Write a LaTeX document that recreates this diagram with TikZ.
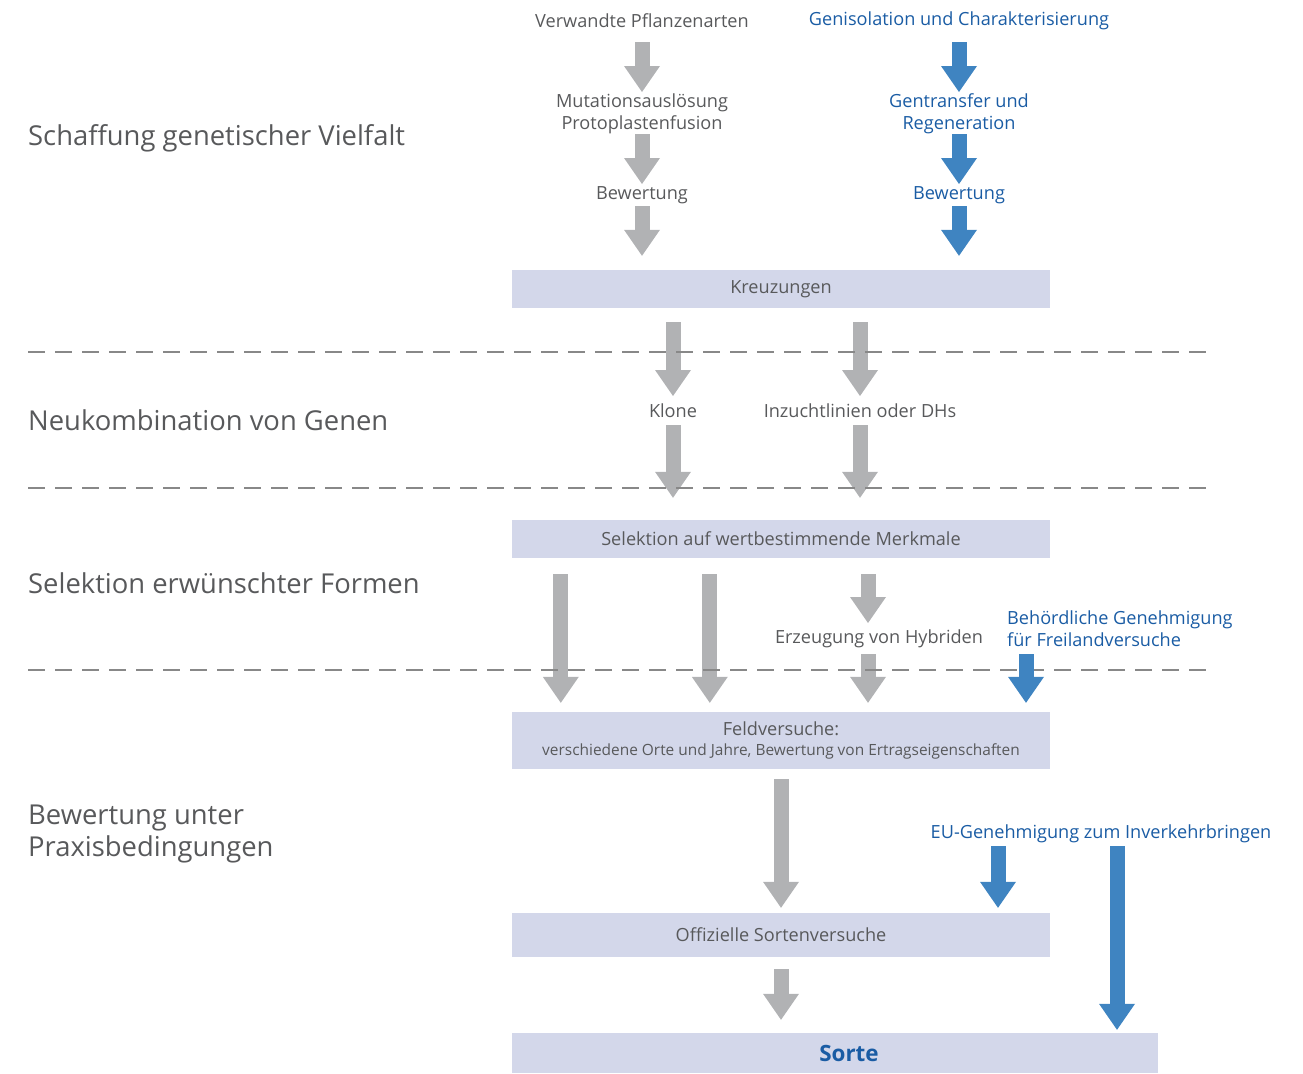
\documentclass[tikz,border=0pt]{standalone}
\usepackage{fontspec}
\setmainfont{Open Sans}
\usetikzlibrary{arrows.meta}
\definecolor{gtext}{HTML}{58595B}
\definecolor{btext}{HTML}{1A5CA4}
\definecolor{garc}{HTML}{B1B2B4}
\definecolor{barc}{HTML}{3F84C1}
\definecolor{boxc}{HTML}{D3D7EA}
\definecolor{dashc}{HTML}{888888}
\begin{document}
\begin{tikzpicture}[x=1bp,y=-1bp,
  lbl/.style={text=gtext, font=\fontsize{18.2}{22}\selectfont, inner sep=0pt, align=center},
  blbl/.style={lbl, text=btext},
  sect/.style={text=gtext, font=\fontsize{27.5}{32}\selectfont, inner sep=0pt, anchor=west, align=left},
  box/.style={fill=boxc, minimum width=538bp, inner sep=0pt, text=gtext, font=\fontsize{18.2}{22}\selectfont, align=center},
  garrow/.style={draw=garc, line width=15bp, -{Triangle[width=36bp,length=26bp,line width=0bp]}},
  barrow/.style={garrow, draw=barc},
  sepline/.style={draw=dashc, line width=2.6bp, dash pattern=on 17bp off 10bp}
]
\useasboundingbox (0,0) rectangle (1303,1073);

% section labels
\node[sect] (s1) at (28,138) {Schaffung genetischer Vielfalt};
\node[sect] (s2) at (28,420) {Neukombination von Genen};
\node[sect] (s3) at (28,583) {Selektion erwünschter Formen};
\node[sect] (s4) at (28,834) {Bewertung unter\\Praxisbedingungen};

% top columns
\node[lbl] (verw) at (642,21) {Verwandte Pflanzenarten};
\node[lbl] (mut) at (642,114) {Mutationsauslösung\\Protoplastenfusion};
\node[lbl] (bewg) at (642,195) {Bewertung};
\node[blbl] (gen) at (959,21) {Genisolation und Charakterisierung};
\node[blbl] (gtr) at (959,114) {Gentransfer und\\Regeneration};
\node[blbl] (bewb) at (959,195) {Bewertung};

% boxes
\node[box, minimum height=38bp] (kreuz) at (781,289) {Kreuzungen};
\node[box, minimum height=38bp] (sel) at (781,539) {Selektion auf wertbestimmende Merkmale};
\node[box, minimum height=57bp] (feld) at (781,740.5) {Feldversuche:\\[-2bp]{\fontsize{15.5}{18}\selectfont verschiedene Orte und Jahre, Bewertung von Ertragseigenschaften}};
\node[box, minimum height=44bp] (offiz) at (781,935) {Offizielle Sortenversuche};
\node[box, minimum height=40bp, minimum width=646bp, text=btext, font=\fontsize{22.5}{26}\selectfont\bfseries] (sorte) at (835,1053) {\hspace*{28bp}Sorte};

% middle labels
\node[lbl] (klone) at (673,411) {Klone};
\node[lbl] (inz) at (860,411) {Inzuchtlinien oder DHs};
\node[lbl] (hyb) at (879,639) {Erzeugung von Hybriden};
\node[blbl, anchor=west, align=left] (beh) at (1007,629) {Behördliche Genehmigung\\für Freilandversuche};
\node[blbl] (eu) at (1101,834) {EU-Genehmigung zum Inverkehrbringen};

% gray arrows
\draw[garrow, shorten <=21bp, shorten >=22bp] (verw.center) -- (mut.center);
\draw[garrow, shorten <=20bp, shorten >=11bp] (mut.center) -- (bewg.center);
\draw[garrow, shorten <=11bp, shorten >=14bp] (bewg.center) -- (bewg.center |- kreuz.north);
\draw[garrow, shorten <=14bp, shorten >=15bp] (kreuz.south -| klone.center) -- (klone.center);
\draw[garrow, shorten <=14bp, shorten >=15bp] (kreuz.south -| inz.center) -- (inz.center);
\draw[garrow, shorten <=14bp, shorten >=22bp] (klone.center) -- (klone.center |- sel.north);
\draw[garrow, shorten <=14bp, shorten >=22bp] (inz.center) -- (inz.center |- sel.north);
\draw[garrow, shorten <=16bp, shorten >=9bp] ([xshift=49bp]sel.south west) -- ([xshift=49bp]feld.north west);
\draw[garrow, shorten <=16bp, shorten >=9bp] ([xshift=198bp]sel.south west) -- ([xshift=198bp]feld.north west);
\draw[garrow, shorten <=16bp, shorten >=16bp] ([xshift=-11bp]hyb.center |- sel.south) -- ([xshift=-11bp]hyb.center);
\draw[garrow, shorten <=15bp, shorten >=9bp] ([xshift=-11bp]hyb.center) -- ([xshift=-11bp]hyb.center |- feld.north);
\draw[garrow, shorten <=10bp, shorten >=5bp] (feld.south) -- (feld.south |- offiz.north);
\draw[garrow, shorten <=12bp, shorten >=13bp] (offiz.south) -- (offiz.south |- sorte.north);

% separators
\draw[sepline] (28,352) -- (1210,352);
\draw[sepline] (28,488) -- (1210,488);
\draw[sepline] (28,670) -- (1210,670);

% blue arrows
\draw[barrow, shorten <=21bp, shorten >=22bp] (gen.center) -- (gtr.center);
\draw[barrow, shorten <=20bp, shorten >=11bp] (gtr.center) -- (bewb.center);
\draw[barrow, shorten <=11bp, shorten >=14bp] (bewb.center) -- (bewb.center |- kreuz.north);
\draw[barrow, shorten <=25bp, shorten >=9bp] ([xshift=19bp]beh.west) -- ([xshift=19bp]beh.west |- feld.north);
\draw[barrow, shorten <=12bp, shorten >=5bp] ([xshift=-103bp]eu.center) -- ([xshift=-103bp]eu.center |- offiz.north);
\draw[barrow, shorten <=12bp, shorten >=3bp] ([xshift=16bp]eu.center) -- ([xshift=16bp]eu.center |- sorte.north);
\end{tikzpicture}
\end{document}
